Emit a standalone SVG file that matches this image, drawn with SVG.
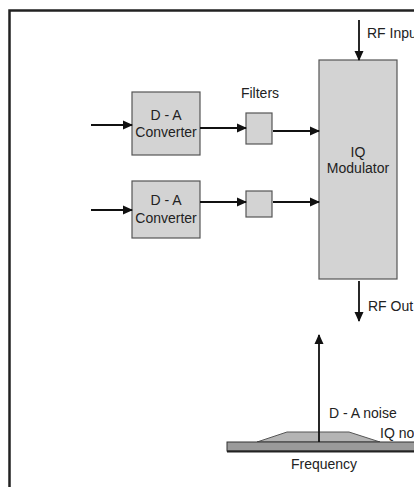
<svg xmlns="http://www.w3.org/2000/svg" width="414" height="487" viewBox="0 0 414 487">
<defs>
<marker id="ah" markerWidth="10" markerHeight="10" refX="9" refY="5" orient="auto" markerUnits="userSpaceOnUse">
<path d="M0,0.5 L10,5 L0,9.5 Z" fill="#111"/>
</marker>
<style>
.box{fill:#d3d3d3;stroke:#555;stroke-width:1.2}
.ln{stroke:#111;stroke-width:1.8;fill:none}
.t{font-family:"Liberation Sans",Arial,sans-serif;font-size:14px;fill:#222}
.c{text-anchor:middle}
</style>
</defs>
<rect width="414" height="487" fill="#fff"/>
<g id="frame">
<path d="M9.5,487 V10.5 H414" fill="none" stroke="#222" stroke-width="2.5"/>
</g>
<g id="iq">
<rect class="box" x="319" y="60" width="78" height="219"/>
<text class="t c" x="358" y="157">IQ</text>
<text class="t c" x="358" y="173">Modulator</text>
</g>
<g id="da1">
<rect class="box" x="132" y="92" width="68" height="63"/>
<text class="t c" x="166" y="120">D - A</text>
<text class="t c" x="166" y="137">Converter</text>
</g>
<g id="da2">
<rect class="box" x="132" y="181" width="68" height="57"/>
<text class="t c" x="166" y="205">D - A</text>
<text class="t c" x="166" y="223">Converter</text>
</g>
<g id="f1">
<rect class="box" x="246" y="113" width="26" height="31"/>
</g>
<g id="f2">
<rect class="box" x="246" y="191" width="26" height="26"/>
</g>
<g id="labels">
<text class="t c" x="260" y="98">Filters</text>
<text class="t" x="367" y="38">RF Input</text>
<text class="t" x="368" y="311">RF Out</text>
<text class="t" x="329" y="418">D - A noise</text>
<text class="t" x="380" y="438">IQ noise</text>
<text class="t c" x="324" y="469">Frequency</text>
</g>
<g id="spectrum">
<path d="M257,442 L287,432 L349,432 L380,442 Z" fill="#b4b4b4" stroke="#555" stroke-width="1"/>
<rect x="227" y="442" width="190" height="9" fill="#9a9a9a" stroke="#333" stroke-width="1"/>
<line x1="227" y1="451.5" x2="414" y2="451.5" stroke="#222" stroke-width="2"/>
</g>
<g id="connectors">
<line class="ln" x1="91" y1="125" x2="132" y2="125" marker-end="url(#ah)"/>
<line class="ln" x1="200" y1="128" x2="246" y2="128" marker-end="url(#ah)"/>
<line class="ln" x1="273" y1="131" x2="319" y2="131" marker-end="url(#ah)"/>
<line class="ln" x1="91" y1="210" x2="132" y2="210" marker-end="url(#ah)"/>
<line class="ln" x1="200" y1="202" x2="246" y2="202" marker-end="url(#ah)"/>
<line class="ln" x1="273" y1="202" x2="319" y2="202" marker-end="url(#ah)"/>
<line class="ln" x1="359" y1="20" x2="359" y2="60" marker-end="url(#ah)"/>
<line class="ln" x1="359" y1="281" x2="359" y2="321" marker-end="url(#ah)"/>
<line class="ln" x1="319" y1="442" x2="319" y2="335" marker-end="url(#ah)"/>
</g>
</svg>
